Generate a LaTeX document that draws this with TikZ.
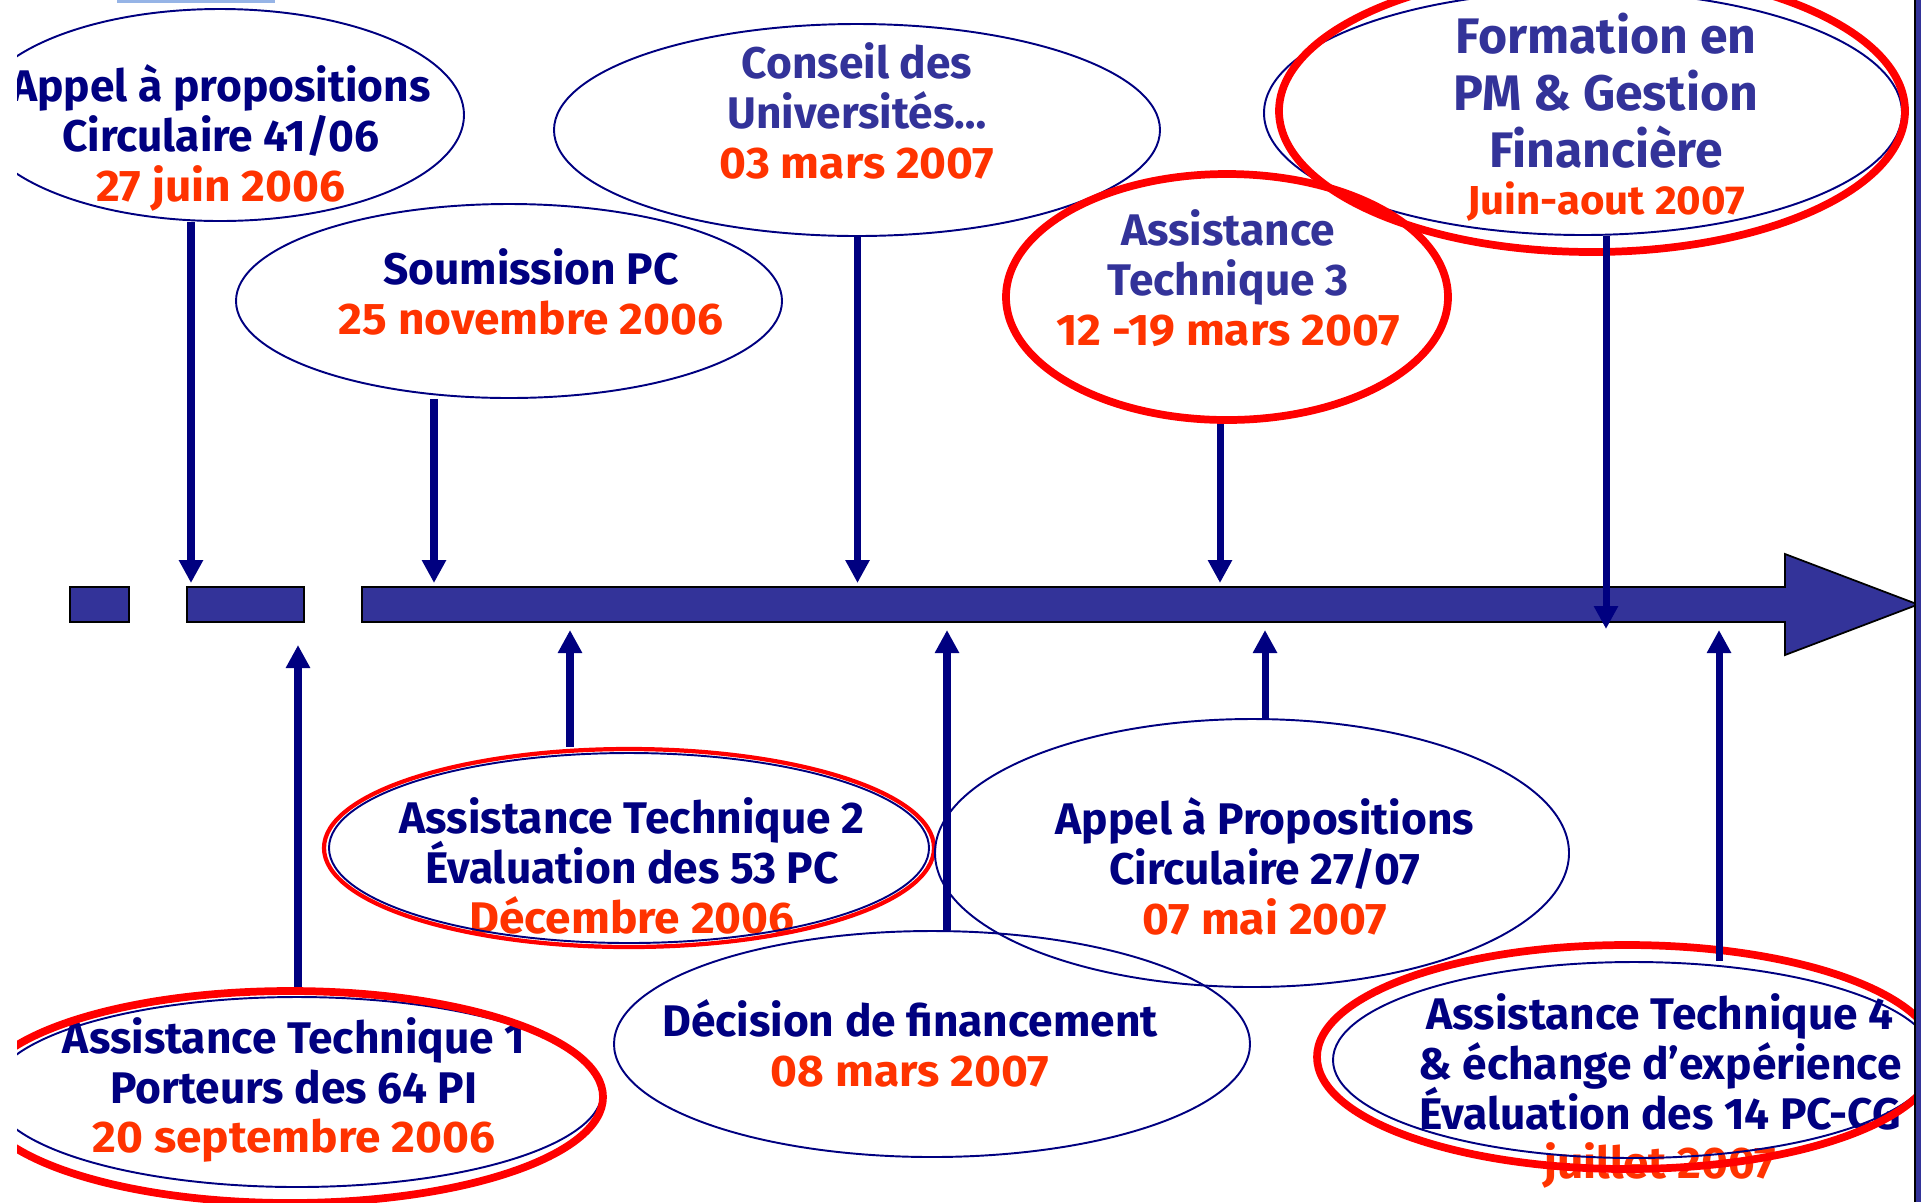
\documentclass[tikz,border=0pt]{standalone}
\usepackage{fontspec}
\setmainfont{Fira Sans}
\newfontfamily\datefont{Fira Sans}[FakeStretch=1.04]
\usetikzlibrary{shapes.geometric, arrows.meta}

\definecolor{navy}{RGB}{0,0,128}
\definecolor{indigo}{RGB}{51,51,153}
\definecolor{datecol}{RGB}{255,51,0}
\definecolor{hlred}{RGB}{255,0,0}
\definecolor{topblue}{RGB}{150,180,230}

\newcommand{\when}[1]{{\datefont\bfseries\color{datecol}#1}}
\newcommand{\tightlines}{\lineskiplimit=-20pt\relax}

\begin{document}
\begin{tikzpicture}[x=0.1mm, y=-0.1mm,
  evt/.style={draw=navy, line width=0.55pt, ellipse, inner sep=0pt},
  hot/.style={draw=hlred, line width=2.2pt, ellipse, inner sep=0pt},
  lbl/.style={align=center, inner sep=0pt, text=navy, font=\bfseries\fontsize{12.6}{14.2}\selectfont\tightlines},
  pointer/.style={draw=navy, line width=2pt, -{Triangle[width=2.3mm,length=2.3mm]}},
  barfill/.style={fill=indigo, draw=black, line width=0.5pt}]

\useasboundingbox (0,0) rectangle (1921,1202);
\clip (17,0) rectangle (1921,1202);

% time line
\fill[topblue] (117,0) rectangle (275,3);
\draw[barfill] (70,587) rectangle (129,622);
\draw[barfill] (187,587) rectangle (304,622);
\draw[barfill] (362,587) -- (1785,587) -- (1785,554) -- (1918,604.5)
  -- (1785,655) -- (1785,622) -- (362,622) -- cycle;

% labels
\node[lbl] (appel06-t) at (221,138) {Appel à propositions\\Circulaire 41/06\\\when{27 juin 2006}};
\node[lbl] (soum-t) at (531,292) {Soumission PC\\\when{25 novembre 2006}};
\node[lbl, text=indigo] (conseil-t) at (857,111) {Conseil des\\Universités…\\\when{03 mars 2007}};
\node[lbl, text=indigo, font=\bfseries\fontsize{14.2}{16.2}\selectfont\tightlines] (form-t) at (1606,117)
  {Formation en\\PM \& Gestion\\Financière\\[-2.8pt]{\fontsize{11.5}{13.4}\selectfont\when{Juin-aout 2007}}};
\node[lbl, text=indigo] (at3-t) at (1228,278) {Assistance\\Technique 3\\\when{12 -19 mars 2007}};
\node[lbl] (at2-t) at (632,866) {Assistance Technique 2\\Évaluation des 53 PC\\\when{Décembre 2006}};
\node[lbl] (decis-t) at (910,1043) {Décision de financement\\\when{08 mars 2007}};
\node[lbl] (appel07-t) at (1265,866) {Appel à Propositions\\Circulaire 27/07\\\when{07 mai 2007}};
\node[lbl] (at1-t) at (294,1090) {Assistance Technique 1\\Porteurs des 64 PI\\\when{20 septembre 2006}};
\node[lbl] (at4-t) at (1660,1091) {Assistance Technique 4\\\& échange d’expérience\\Évaluation des 14 PC-CG\\\when{juillet 2007}};

% ellipses
\node[evt, minimum width=48.8mm, minimum height=21.2mm] (appel06) at (220,115) {};
\node[evt, minimum width=54.6mm, minimum height=19.4mm] (soum) at (509,301) {};
\node[evt, minimum width=60.6mm, minimum height=21.2mm] (conseil) at (857,130) {};
\node[evt, minimum width=63.8mm, minimum height=24.4mm] (formB) at (1583,113) {};
\node[hot, minimum width=62.6mm, minimum height=28.2mm] (formR) at (1592,111) {};
\node[hot, minimum width=44.2mm, minimum height=24.6mm] (at3) at (1227,297) {};
\node[evt, minimum width=60.0mm, minimum height=19.0mm] (at2B) at (629,848) {};
\node[hot, line width=1.2pt, minimum width=61.0mm, minimum height=19.8mm] (at2R) at (629,848) {};
\node[evt, minimum width=61.0mm, minimum height=19.0mm] (at1B) at (297,1092) {};
\node[hot, minimum width=62.6mm, minimum height=21.2mm] (at1R) at (290,1097) {};
\node[evt, minimum width=63.6mm, minimum height=22.6mm] (decis) at (932,1044) {};
\node[evt, minimum width=63.4mm, minimum height=26.8mm] (appel07) at (1252,853) {};
\node[evt, minimum width=60.2mm, minimum height=19.6mm] (at4B) at (1634,1060) {};
\node[hot, minimum width=62.0mm, minimum height=22.4mm] (at4R) at (1627,1057) {};

% arrow tips on the time line
\coordinate (d1) at (191,583);
\coordinate (d2) at (434,583);
\coordinate (d3) at (857.5,583);
\coordinate (d4) at (1220,583);
\coordinate (d5) at (1606,629);
\coordinate (u1) at (298,645);
\coordinate (u2) at (570,630);
\coordinate (u3) at (947,630);
\coordinate (u4) at (1265,630);
\coordinate (u5) at (1719,630);

\draw[pointer] (d1 |- appel06.south) -- (d1);
\draw[pointer] (d2 |- soum.south) -- (d2);
\draw[pointer] (d3 |- conseil.south) -- (d3);
\draw[pointer] (d4 |- at3.south) -- (d4);
\draw[pointer] (d5 |- formB.south) -- (d5);

\draw[pointer] (u1 |- at1R.north) -- (u1);
\draw[pointer] (u2 |- at2R.north) -- (u2);
\draw[pointer] (u3 |- decis.north) -- (u3);
\draw[pointer] (u4 |- appel07.north) -- (u4);
\draw[pointer] (u5 |- at4B.north) -- (u5);

% slide edge
\fill[indigo] (1915,0) rectangle (1921,1202);
\draw[black, line width=0.4pt] (1915,0) -- (1915,1202);

\end{tikzpicture}
\end{document}
